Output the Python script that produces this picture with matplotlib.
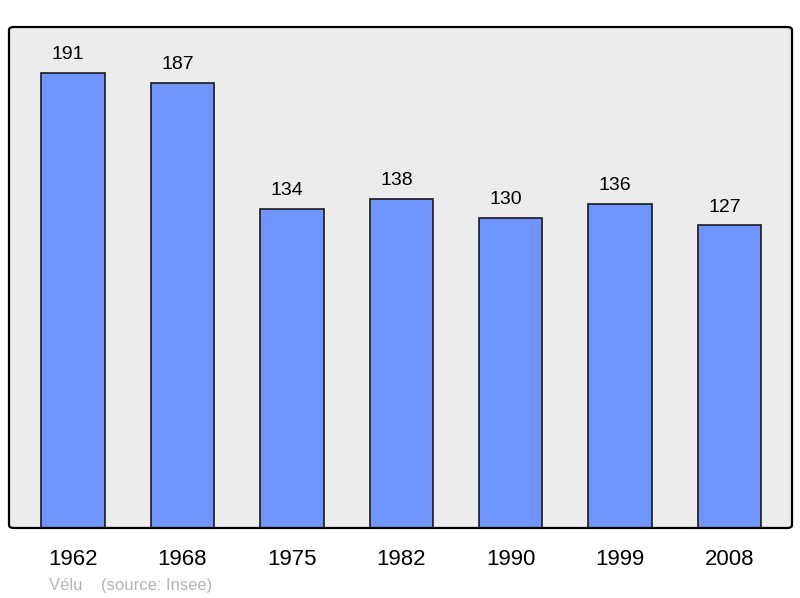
import matplotlib
matplotlib.use("Agg")
import matplotlib.pyplot as plt
from matplotlib.patches import FancyBboxPatch
from matplotlib.transforms import blended_transform_factory

plt.rcParams["font.family"] = ["Liberation Sans", "DejaVu Sans"]

years = ["1962", "1968", "1975", "1982", "1990", "1999", "2008"]
population = [191, 187, 134, 138, 130, 136, 127]

W, H = 800, 598
fig = plt.figure(figsize=(W / 100, H / 100), dpi=100)
ax = fig.add_axes([9 / W, 1 - 528 / H, 783 / W, 501 / H])
ax.set_facecolor("#ececec")

x = range(len(years))
ax.bar(x, population, width=0.58, color="#7095ff", edgecolor="#1a1a1a", linewidth=1.2, zorder=2)

# valeurs au-dessus des barres (légèrement décalées à gauche comme l'original)
for i, v in zip(x, population):
    ax.annotate(str(v), (i, v), xytext=(-3.6, 10), textcoords="offset points",
                ha="center", va="baseline", fontsize=14, color="black")

# années sous l'axe
trans = blended_transform_factory(ax.transData, fig.transFigure)
for i, y in zip(x, years):
    ax.text(i, 1 - 565 / H, y, transform=trans, ha="center", va="baseline",
            fontsize=16, color="black", clip_on=False)

ax.set_xlim(-0.585, 6.57)
ax.set_ylim(0, 210.3)
ax.set_xticks([])
ax.set_yticks([])
for s in ax.spines.values():
    s.set_visible(False)

# cadre arrondi
frame = FancyBboxPatch((0, 0), 1, 1, boxstyle="round,pad=0,rounding_size=0.006",
                       transform=ax.transAxes, facecolor="none", edgecolor="black",
                       linewidth=1.6, zorder=5, clip_on=False)
ax.add_patch(frame)

fig.text(49 / W, 1 - 590 / H, "Vélu    (source: Insee)", fontsize=12,
         color="#b4b4b4", ha="left", va="baseline")

fig.savefig("out.png", dpi=100)
